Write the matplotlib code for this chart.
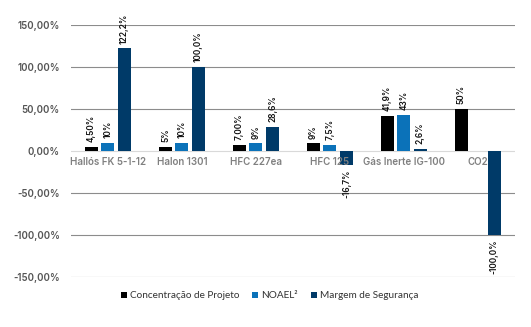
import matplotlib
matplotlib.use("Agg")
import matplotlib.pyplot as plt
import numpy as np

plt.rcParams['font.family'] = ['Inter', 'DejaVu Sans']

categories = ["Hallós FK 5-1-12", "Halon 1301", "HFC 227ea", "HFC 125", "Gás Inerte IG-100", "CO2"]
concentracao = [4.5, 5, 7, 9, 41.9, 50]
noael = [10, 10, 9, 7.5, 43, np.nan]
margem = [122.2, 100.0, 28.6, -16.7, 2.6, -100.0]
lab_conc = ["4,50%", "5%", "7,00%", "9%", "41,9%", "50%"]
lab_noael = ["10%", "10%", "9%", "7,5%", "43%", ""]
lab_margem = ["122,2%", "100,0%", "28,6%", "-16,7%", "2,6%", "-100,0%"]
yticks = [-150, -100, -50, 0, 50, 100, 150]

series = [
    ("Concentração de Projeto", concentracao, lab_conc, "#000000"),
    ("NOAEL²", noael, lab_noael, "#0b72b9"),
    ("Margem de Segurança", margem, lab_margem, "#003a68"),
]

fig = plt.figure(figsize=(5.31, 3.27), dpi=100)
ax = fig.add_axes([0.1337, 0.1529, 0.836, 0.7706])

x = np.arange(len(categories))
w = 0.176
step = 0.223
for k, (name, vals, labs, col) in enumerate(series):
    pos = x + (k - 1) * step
    ax.bar(pos, vals, width=w, color=col, label=name, zorder=3)
    for p, v, t in zip(pos, vals, labs):
        if not t:
            continue
        if v >= 0:
            ax.annotate(t, (p, v), xytext=(0, 3.5), textcoords="offset points",
                        rotation=90, ha="center", va="bottom", fontsize=6,
                        fontweight="semibold", color="#111111")
        else:
            ax.annotate(t, (p, v), xytext=(0, -3.5), textcoords="offset points",
                        rotation=90, ha="center", va="top", fontsize=6,
                        fontweight="semibold", color="#111111")

for i, c in enumerate(categories):
    ax.annotate(c, (i, 0), xytext=(0, -4), textcoords="offset points",
                ha="center", va="top", fontsize=7, color="#808080", fontweight="semibold")

ax.set_xlim(-0.5, len(categories) - 0.5)
ax.set_ylim(-150, 150)
ax.set_yticks(yticks)
ax.set_yticklabels([f"{v:.2f}%".replace(".", ",") for v in yticks],
                   fontsize=7, color="#555555", fontweight="semibold")
ax.set_xticks([])
ax.tick_params(axis="y", length=0, pad=8)
for v in yticks:
    ax.axhline(v, color="#d9d9d9" if v == 0 else "#8c8c8c", lw=0.8, zorder=1)
for s in ax.spines.values():
    s.set_visible(False)

fig.legend(loc="center", bbox_to_anchor=(0.508, 0.095), ncol=3, frameon=False,
           prop={"family": "Lato", "size": 7.2}, handlelength=0.6, handleheight=0.6,
           handletextpad=0.3, columnspacing=1.3, labelcolor="#333333")

fig.savefig("out.png", dpi=100)
